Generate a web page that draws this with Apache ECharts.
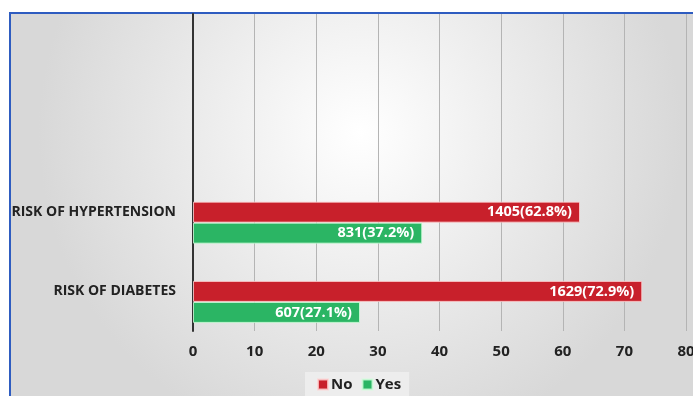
<!DOCTYPE html>
<html>
<head>
<meta charset="utf-8">
<script src="https://cdn.jsdelivr.net/npm/echarts@6/dist/echarts.min.js"></script>
<style>
  html, body { margin: 0; padding: 0; background: #fff; }
  #chart { width: 693px; height: 396px; }
</style>
</head>
<body>
<div id="chart"></div>
<script>
// categories (bottom to top), the two empty slots keep Excel's band spacing
var categories = ['RISK OF DIABETES', 'RISK OF HYPERTENSION', '', ''];
var noPct = [72.9, 62.8, null, null];
var yesPct = [27.1, 37.2, null, null];
var noCount = [1629, 1405];
var yesCount = [607, 831];
var xTicks = [0, 10, 20, 30, 40, 50, 60, 70, 80];

var font = '"Open Sans", "DejaVu Sans", sans-serif';

var chart = echarts.init(document.getElementById('chart'));

function labelFmt(counts) {
    return function(p) {
        return counts[p.dataIndex] + '(' + p.value.toFixed(1) + '%)';
    };
}

chart.setOption({
    animation: false,
    graphic: [{
        type: 'rect',
        left: 9,
        top: 12,
        shape: { width: 700, height: 400 },
        style: {
            fill: {
                type: 'radial', x: 0.5, y: 0.3, r: 0.8,
                colorStops: [
                    { offset: 0, color: '#ffffff' },
                    { offset: 1, color: '#d8d8d8' }
                ]
            },
            stroke: '#2e5cc0',
            lineWidth: 2
        },
        z: -10
    }],
    grid: { left: 193, right: 7, top: 14, bottom: 65, outerBoundsMode: 'none' },
    legend: {
        data: ['No', 'Yes'],
        left: 305,
        top: 372,
        icon: 'rect',
        itemWidth: 10,
        itemHeight: 10,
        itemGap: 9,
        padding: [5, 8, 8, 12],
        backgroundColor: 'rgba(238,238,238,0.9)',
        textStyle: { fontFamily: font, fontWeight: 'bold', fontSize: 15, color: '#222', padding: [0, 0, 0, -2] }
    },
    xAxis: {
        type: 'value',
        min: 0,
        max: 80,
        interval: 10,
        axisLine: { show: false },
        axisTick: { show: false },
        splitLine: { lineStyle: { color: '#b4b4b4', width: 1 } },
        axisLabel: {
            margin: 13,
            fontFamily: font, fontWeight: 'bold', fontSize: 15, color: '#222',
            formatter: function(v) { return xTicks.indexOf(v) >= 0 ? String(v) : ''; }
        }
    },
    yAxis: {
        type: 'category',
        data: categories,
        axisLine: { show: true, lineStyle: { color: '#333', width: 2 } },
        axisTick: { show: false },
        axisLabel: {
            margin: 17,
            fontFamily: font, fontWeight: 'bold', fontSize: 14, color: '#222'
        }
    },
    series: [{
        // spacer, pushes the No/Yes pair below the band centre like the original
        name: 'spacer',
        type: 'bar',
        data: [null, null, null, null],
        barWidth: 21,
        barGap: '0%'
    }, {
        name: 'No',
        type: 'bar',
        data: noPct,
        barWidth: 21,
        barGap: '0%',
        itemStyle: { color: '#c8202b', borderColor: 'rgba(255,210,210,0.8)', borderWidth: 1 },
        label: {
            show: true, position: 'insideRight', distance: 8,
            color: '#fff', fontFamily: font, fontWeight: 'bold', fontSize: 14.5,
            formatter: labelFmt(noCount)
        }
    }, {
        name: 'Yes',
        type: 'bar',
        data: yesPct,
        barWidth: 21,
        barGap: '0%',
        itemStyle: { color: '#2bb564', borderColor: 'rgba(210,255,220,0.8)', borderWidth: 1 },
        label: {
            show: true, position: 'insideRight', distance: 8,
            color: '#fff', fontFamily: font, fontWeight: 'bold', fontSize: 14.5,
            formatter: labelFmt(yesCount)
        }
    }]
});
</script>
</body>
</html>
